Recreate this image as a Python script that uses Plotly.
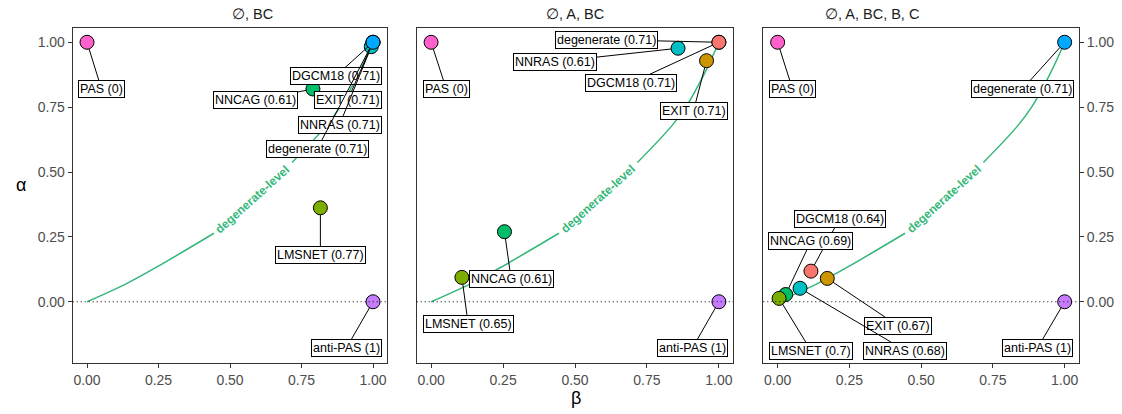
import plotly.graph_objects as go

panel_titles = ["∅, BC", "∅, A, BC", "∅, A, BC, B, C"]

method_colors = {
    "DGCM18": "#F8766D",
    "EXIT": "#CD9600",
    "LMSNET": "#7CAE00",
    "NNCAG": "#00BE67",
    "NNRAS": "#00BFC4",
    "degenerate": "#00A9FF",
    "anti-PAS": "#C77CFF",
    "PAS": "#FF61CC",
}

# Panel 1: ∅, BC
p1_methods = ["DGCM18", "EXIT", "LMSNET", "NNCAG", "NNRAS", "degenerate", "anti-PAS", "PAS"]
p1_beta = [1.0, 1.0, 0.816, 0.790, 0.994, 1.0, 1.0, 0.0]
p1_alpha = [1.0, 1.0, 0.362, 0.820, 0.983, 1.0, 0.0, 1.0]
p1_score = ["0.71", "0.71", "0.77", "0.61", "0.71", "0.71", "1", "0"]
p1_label_beta = [0.869, 0.911, 0.816, 0.589, 0.883, 0.805, 0.907, 0.051]
p1_label_alpha = [0.869, 0.776, 0.181, 0.776, 0.682, 0.589, -0.178, 0.819]

# Panel 2: ∅, A, BC
p2_methods = ["degenerate", "DGCM18", "EXIT", "LMSNET", "NNCAG", "NNRAS", "anti-PAS", "PAS"]
p2_beta = [1.0, 1.0, 0.957, 0.107, 0.255, 0.858, 1.0, 0.0]
p2_alpha = [1.0, 1.0, 0.929, 0.094, 0.270, 0.977, 0.0, 1.0]
p2_score = ["0.71", "0.71", "0.71", "0.65", "0.61", "0.61", "1", "0"]
p2_label_beta = [0.611, 0.696, 0.912, 0.129, 0.278, 0.429, 0.908, 0.053]
p2_label_alpha = [1.010, 0.844, 0.737, -0.087, 0.0875, 0.925, -0.178, 0.819]

# Panel 3: ∅, A, BC, B, C
p3_methods = ["DGCM18", "EXIT", "NNCAG", "LMSNET", "NNRAS", "degenerate", "anti-PAS", "PAS"]
p3_beta = [0.116, 0.173, 0.028, 0.005, 0.078, 1.0, 1.0, 0.0]
p3_alpha = [0.118, 0.090, 0.028, 0.013, 0.052, 1.0, 0.0, 1.0]
p3_score = ["0.64", "0.67", "0.69", "0.7", "0.68", "0.71", "1", "0"]
p3_label_beta = [0.216, 0.420, 0.116, 0.116, 0.445, 0.852, 0.906, 0.052]
p3_label_alpha = [0.320, -0.093, 0.233, -0.188, -0.188, 0.819, -0.177, 0.819]

# degenerate-level curve (gap where the label sits)
curve_beta = [0.0, 0.14, 0.256, 0.444, None, 0.717, 0.834, 0.886, 0.95, 1.0]
curve_alpha = [0.0, 0.071, 0.1415, 0.264, None, 0.537, 0.675, 0.752, 0.88, 1.0]
curve_label = "degenerate-level"
curve_label_beta = 0.58
curve_label_alpha = 0.395

x_ticks = [0, 0.25, 0.5, 0.75, 1.0]
x_ticktext = ["0.00", "0.25", "0.50", "0.75", "1.00"]
y_ticks = [0, 0.25, 0.5, 0.75, 1.0]
y_ticktext = ["0.00", "0.25", "0.50", "0.75", "1.00"]

panels = [
    (p1_methods, p1_beta, p1_alpha, p1_score, p1_label_beta, p1_label_alpha),
    (p2_methods, p2_beta, p2_alpha, p2_score, p2_label_beta, p2_label_alpha),
    (p3_methods, p3_beta, p3_alpha, p3_score, p3_label_beta, p3_label_alpha),
]

W, H = 1122, 414
x_domains_px = [(72.7, 387.3), (416.7, 733.3), (763.3, 1079.0)]
y_top_px, y_bot_px = 28.0, 363.0
GREEN = "#35B779"
FONT = "Liberation Sans, Arial, sans-serif"

fig = go.Figure()
annotations = []
shapes = []

for i, (methods, beta, alpha, score, lb, la) in enumerate(panels):
    n = i + 1
    xa = "x" if n == 1 else f"x{n}"
    ya = "y" if n == 1 else f"y{n}"

    fig.add_trace(go.Scatter(
        x=curve_beta, y=curve_alpha, mode="lines",
        line=dict(color=GREEN, width=1.5, shape="spline"),
        connectgaps=False, hoverinfo="skip", xaxis=xa, yaxis=ya,
    ))
    fig.add_trace(go.Scatter(
        x=beta, y=alpha, mode="markers",
        marker=dict(size=14, color=[method_colors[m] for m in methods],
                    line=dict(color="black", width=1)),
        xaxis=xa, yaxis=ya, hoverinfo="skip",
    ))

    annotations.append(dict(
        x=curve_label_beta, y=curve_label_alpha, xref=xa, yref=ya,
        text=f"<b>{curve_label}</b>", showarrow=False, textangle=-42,
        font=dict(family=FONT, size=12, color=GREEN),
    ))

    for m, b, a, s, tx, ty in zip(methods, beta, alpha, score, lb, la):
        annotations.append(dict(
            x=b, y=a, xref=xa, yref=ya,
            ax=tx, ay=ty, axref=xa, ayref=ya,
            text=f"{m} ({s})", showarrow=True, arrowhead=0,
            arrowwidth=1, arrowcolor="black", standoff=7,
            bgcolor="white", bordercolor="black", borderwidth=1, borderpad=1,
            font=dict(family=FONT, size=12.5, color="black"),
        ))

    shapes.append(dict(
        type="line", xref=f"{xa} domain", yref=ya, x0=0, x1=1, y0=0, y1=0,
        line=dict(color="black", width=1, dash="1px,3px"), layer="above",
    ))

    x0, x1 = x_domains_px[i]
    xdom = [x0 / W, x1 / W]
    ydom = [1 - y_bot_px / H, 1 - y_top_px / H]
    axis_common = dict(
        showgrid=False, zeroline=False, showline=True, mirror=True,
        linecolor="#333333", linewidth=1,
        ticks="outside", ticklen=4, tickwidth=1, tickcolor="#333333",
        tickfont=dict(family=FONT, size=14, color="#4D4D4D"),
    )
    fig.update_layout(**{
        ("xaxis" if n == 1 else f"xaxis{n}"): dict(
            domain=xdom, range=[-0.05, 1.05], anchor=ya,
            tickvals=x_ticks, ticktext=x_ticktext, **axis_common),
    })
    yaxis = dict(domain=ydom, range=[-0.236, 1.055], anchor=xa,
                 tickvals=y_ticks, ticktext=y_ticktext, **axis_common)
    if n == 1:
        yaxis["side"] = "left"
    elif n == 2:
        yaxis["showticklabels"] = False
        yaxis["ticks"] = ""
    else:
        yaxis["side"] = "right"
    fig.update_layout(**{("yaxis" if n == 1 else f"yaxis{n}"): yaxis})

    annotations.append(dict(
        x=(x0 + x1) / 2 / W, y=1 - 14 / H, xref="paper", yref="paper",
        text=panel_titles[i], showarrow=False, yanchor="middle",
        font=dict(family=FONT, size=14.5, color="#1A1A1A"),
    ))

annotations.append(dict(
    x=576 / W, y=1 - 398 / H, xref="paper", yref="paper", text="β",
    showarrow=False, yanchor="middle", font=dict(family=FONT, size=18, color="black"),
))
annotations.append(dict(
    x=14 / W, y=1 - 185 / H, xref="paper", yref="paper", text="α",
    showarrow=False, yanchor="middle", font=dict(family=FONT, size=18, color="black"),
))

fig.update_layout(
    width=W, height=H, margin=dict(l=0, r=0, t=0, b=0),
    plot_bgcolor="white", paper_bgcolor="white", showlegend=False,
    annotations=annotations, shapes=shapes,
    font=dict(family=FONT),
)

fig.write_html("out.html")
